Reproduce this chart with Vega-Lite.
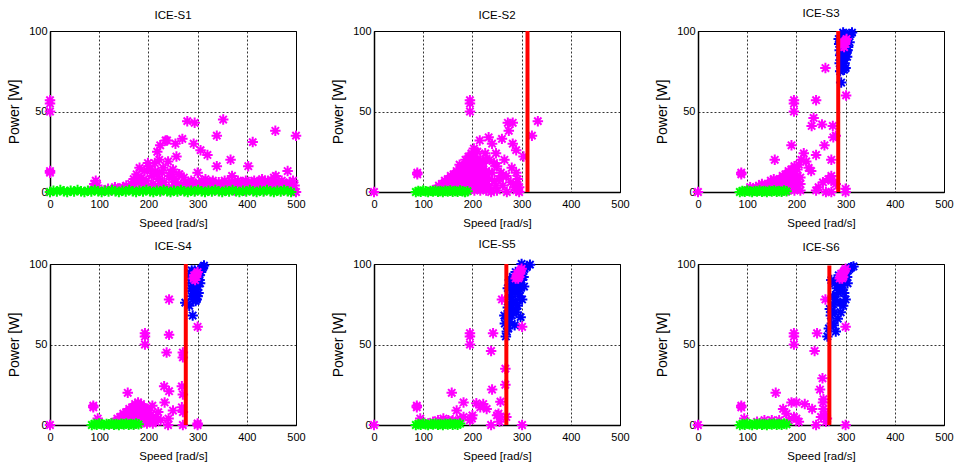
{
"$schema":"https://vega.github.io/schema/vega-lite/v6.json",
"background":"white",
"padding":{"left":7,"top":7,"right":5,"bottom":5},
"bounds":"flush",
"spacing":{"column":78,"row":72},
"columns":3,
"data":{"values":[
{"p":"ICE-S1","s":"m","x":0,"y":57},{"p":"ICE-S1","s":"m","x":0,"y":55},{"p":"ICE-S1","s":"m","x":0,"y":50},{"p":"ICE-S1","s":"m","x":0,"y":13},{"p":"ICE-S1","s":"m","x":0,"y":12},{"p":"ICE-S1","s":"m","x":0,"y":0},
{"p":"ICE-S1","s":"m","x":88,"y":3},{"p":"ICE-S1","s":"m","x":90,"y":5},{"p":"ICE-S1","s":"m","x":93,"y":7},{"p":"ICE-S1","s":"m","x":96,"y":4},
{"p":"ICE-S1","s":"m","x":110,"y":1},{"p":"ICE-S1","s":"m","x":118,"y":2},{"p":"ICE-S1","s":"m","x":125,"y":1},{"p":"ICE-S1","s":"m","x":132,"y":3},{"p":"ICE-S1","s":"m","x":140,"y":2},{"p":"ICE-S1","s":"m","x":148,"y":3},{"p":"ICE-S1","s":"m","x":155,"y":4},{"p":"ICE-S1","s":"m","x":160,"y":2},{"p":"ICE-S1","s":"m","x":165,"y":5},{"p":"ICE-S1","s":"m","x":170,"y":8},{"p":"ICE-S1","s":"m","x":172,"y":3},{"p":"ICE-S1","s":"m","x":176,"y":11},{"p":"ICE-S1","s":"m","x":180,"y":6},{"p":"ICE-S1","s":"m","x":182,"y":15},{"p":"ICE-S1","s":"m","x":186,"y":9},{"p":"ICE-S1","s":"m","x":190,"y":4},{"p":"ICE-S1","s":"m","x":192,"y":13},{"p":"ICE-S1","s":"m","x":196,"y":7},{"p":"ICE-S1","s":"m","x":199,"y":18},{"p":"ICE-S1","s":"m","x":200,"y":16},{"p":"ICE-S1","s":"m","x":204,"y":14},{"p":"ICE-S1","s":"m","x":207,"y":10},{"p":"ICE-S1","s":"m","x":210,"y":5},{"p":"ICE-S1","s":"m","x":213,"y":18},{"p":"ICE-S1","s":"m","x":214,"y":13},{"p":"ICE-S1","s":"m","x":218,"y":25},{"p":"ICE-S1","s":"m","x":220,"y":8},{"p":"ICE-S1","s":"m","x":222,"y":20},{"p":"ICE-S1","s":"m","x":224,"y":29},{"p":"ICE-S1","s":"m","x":226,"y":4},{"p":"ICE-S1","s":"m","x":228,"y":12},{"p":"ICE-S1","s":"m","x":232,"y":6},{"p":"ICE-S1","s":"m","x":235,"y":32},{"p":"ICE-S1","s":"m","x":238,"y":32},{"p":"ICE-S1","s":"m","x":240,"y":19},{"p":"ICE-S1","s":"m","x":242,"y":10},{"p":"ICE-S1","s":"m","x":245,"y":12},{"p":"ICE-S1","s":"m","x":248,"y":3},{"p":"ICE-S1","s":"m","x":250,"y":8},{"p":"ICE-S1","s":"m","x":253,"y":8},{"p":"ICE-S1","s":"m","x":255,"y":30},{"p":"ICE-S1","s":"m","x":257,"y":22},{"p":"ICE-S1","s":"m","x":260,"y":5},{"p":"ICE-S1","s":"m","x":263,"y":11},{"p":"ICE-S1","s":"m","x":266,"y":3},{"p":"ICE-S1","s":"m","x":269,"y":33},{"p":"ICE-S1","s":"m","x":272,"y":9},{"p":"ICE-S1","s":"m","x":275,"y":6},{"p":"ICE-S1","s":"m","x":279,"y":44},{"p":"ICE-S1","s":"m","x":283,"y":4},{"p":"ICE-S1","s":"m","x":287,"y":7},{"p":"ICE-S1","s":"m","x":292,"y":30},{"p":"ICE-S1","s":"m","x":294,"y":43},{"p":"ICE-S1","s":"m","x":297,"y":5},{"p":"ICE-S1","s":"m","x":300,"y":12},{"p":"ICE-S1","s":"m","x":303,"y":3},{"p":"ICE-S1","s":"m","x":306,"y":26},{"p":"ICE-S1","s":"m","x":308,"y":7},{"p":"ICE-S1","s":"m","x":312,"y":4},{"p":"ICE-S1","s":"m","x":316,"y":8},{"p":"ICE-S1","s":"m","x":320,"y":23},{"p":"ICE-S1","s":"m","x":323,"y":5},{"p":"ICE-S1","s":"m","x":327,"y":3},{"p":"ICE-S1","s":"m","x":331,"y":7},{"p":"ICE-S1","s":"m","x":335,"y":4},{"p":"ICE-S1","s":"m","x":339,"y":35},{"p":"ICE-S1","s":"m","x":339,"y":16},{"p":"ICE-S1","s":"m","x":343,"y":6},{"p":"ICE-S1","s":"m","x":347,"y":3},{"p":"ICE-S1","s":"m","x":352,"y":45},{"p":"ICE-S1","s":"m","x":355,"y":7},{"p":"ICE-S1","s":"m","x":359,"y":4},{"p":"ICE-S1","s":"m","x":363,"y":6},{"p":"ICE-S1","s":"m","x":367,"y":20},{"p":"ICE-S1","s":"m","x":370,"y":10},{"p":"ICE-S1","s":"m","x":374,"y":5},{"p":"ICE-S1","s":"m","x":378,"y":3},{"p":"ICE-S1","s":"m","x":382,"y":7},{"p":"ICE-S1","s":"m","x":386,"y":4},{"p":"ICE-S1","s":"m","x":390,"y":6},{"p":"ICE-S1","s":"m","x":394,"y":3},{"p":"ICE-S1","s":"m","x":398,"y":7},{"p":"ICE-S1","s":"m","x":403,"y":16},{"p":"ICE-S1","s":"m","x":406,"y":5},{"p":"ICE-S1","s":"m","x":410,"y":4},{"p":"ICE-S1","s":"m","x":412,"y":31},{"p":"ICE-S1","s":"m","x":415,"y":7},{"p":"ICE-S1","s":"m","x":419,"y":3},{"p":"ICE-S1","s":"m","x":423,"y":6},{"p":"ICE-S1","s":"m","x":427,"y":4},{"p":"ICE-S1","s":"m","x":431,"y":8},{"p":"ICE-S1","s":"m","x":435,"y":5},{"p":"ICE-S1","s":"m","x":439,"y":3},{"p":"ICE-S1","s":"m","x":443,"y":7},{"p":"ICE-S1","s":"m","x":447,"y":4},{"p":"ICE-S1","s":"m","x":451,"y":6},{"p":"ICE-S1","s":"m","x":455,"y":9},{"p":"ICE-S1","s":"m","x":458,"y":38},{"p":"ICE-S1","s":"m","x":459,"y":10},{"p":"ICE-S1","s":"m","x":463,"y":5},{"p":"ICE-S1","s":"m","x":467,"y":3},{"p":"ICE-S1","s":"m","x":471,"y":7},{"p":"ICE-S1","s":"m","x":475,"y":2},{"p":"ICE-S1","s":"m","x":479,"y":5},{"p":"ICE-S1","s":"m","x":483,"y":13},{"p":"ICE-S1","s":"m","x":487,"y":6},{"p":"ICE-S1","s":"m","x":490,"y":3},{"p":"ICE-S1","s":"m","x":494,"y":7},{"p":"ICE-S1","s":"m","x":497,"y":4},{"p":"ICE-S1","s":"m","x":500,"y":35},{"p":"ICE-S1","s":"m","x":500,"y":0},
{"p":"ICE-S1","s":"m","x":205,"y":3},{"p":"ICE-S1","s":"m","x":215,"y":2},{"p":"ICE-S1","s":"m","x":225,"y":1},{"p":"ICE-S1","s":"m","x":235,"y":3},{"p":"ICE-S1","s":"m","x":245,"y":1},{"p":"ICE-S1","s":"m","x":255,"y":2},{"p":"ICE-S1","s":"m","x":265,"y":1},{"p":"ICE-S1","s":"m","x":275,"y":2},{"p":"ICE-S1","s":"m","x":285,"y":3},{"p":"ICE-S1","s":"m","x":295,"y":1},{"p":"ICE-S1","s":"m","x":305,"y":2},{"p":"ICE-S1","s":"m","x":315,"y":1},{"p":"ICE-S1","s":"m","x":325,"y":2},{"p":"ICE-S1","s":"m","x":335,"y":1},{"p":"ICE-S1","s":"m","x":345,"y":2},{"p":"ICE-S1","s":"m","x":355,"y":1},{"p":"ICE-S1","s":"m","x":365,"y":2},{"p":"ICE-S1","s":"m","x":375,"y":1},{"p":"ICE-S1","s":"m","x":385,"y":2},{"p":"ICE-S1","s":"m","x":395,"y":1},{"p":"ICE-S1","s":"m","x":405,"y":2},{"p":"ICE-S1","s":"m","x":415,"y":1},{"p":"ICE-S1","s":"m","x":425,"y":2},{"p":"ICE-S1","s":"m","x":435,"y":1},{"p":"ICE-S1","s":"m","x":445,"y":2},{"p":"ICE-S1","s":"m","x":455,"y":1},{"p":"ICE-S1","s":"m","x":465,"y":2},{"p":"ICE-S1","s":"m","x":475,"y":1},{"p":"ICE-S1","s":"m","x":485,"y":2},{"p":"ICE-S1","s":"m","x":495,"y":1},{"p":"ICE-S1","s":"m","x":280,"y":5},{"p":"ICE-S1","s":"m","x":290,"y":6},{"p":"ICE-S1","s":"m","x":310,"y":5},{"p":"ICE-S1","s":"m","x":330,"y":6},{"p":"ICE-S1","s":"m","x":350,"y":5},{"p":"ICE-S1","s":"m","x":370,"y":6},{"p":"ICE-S1","s":"m","x":390,"y":5},{"p":"ICE-S1","s":"m","x":410,"y":6},{"p":"ICE-S1","s":"m","x":430,"y":5},{"p":"ICE-S1","s":"m","x":450,"y":6},{"p":"ICE-S1","s":"m","x":470,"y":5},{"p":"ICE-S1","s":"m","x":218,"y":11},{"p":"ICE-S1","s":"m","x":230,"y":15},{"p":"ICE-S1","s":"m","x":250,"y":14},{"p":"ICE-S1","s":"m","x":262,"y":11},
{"p":"ICE-S1","s":"g","x":0,"y":0},{"p":"ICE-S1","s":"g","x":7,"y":0.8},{"p":"ICE-S1","s":"g","x":14,"y":0.3},{"p":"ICE-S1","s":"g","x":21,"y":1.2},{"p":"ICE-S1","s":"g","x":28,"y":0.5},{"p":"ICE-S1","s":"g","x":35,"y":0},{"p":"ICE-S1","s":"g","x":42,"y":0.8},{"p":"ICE-S1","s":"g","x":49,"y":0.3},{"p":"ICE-S1","s":"g","x":56,"y":1.2},{"p":"ICE-S1","s":"g","x":63,"y":0.5},{"p":"ICE-S1","s":"g","x":70,"y":0},{"p":"ICE-S1","s":"g","x":77,"y":0.8},{"p":"ICE-S1","s":"g","x":84,"y":0.3},{"p":"ICE-S1","s":"g","x":91,"y":1.2},{"p":"ICE-S1","s":"g","x":98,"y":0.5},{"p":"ICE-S1","s":"g","x":105,"y":0},{"p":"ICE-S1","s":"g","x":112,"y":0.8},{"p":"ICE-S1","s":"g","x":119,"y":0.3},{"p":"ICE-S1","s":"g","x":126,"y":1.2},{"p":"ICE-S1","s":"g","x":133,"y":0.5},{"p":"ICE-S1","s":"g","x":140,"y":0},{"p":"ICE-S1","s":"g","x":147,"y":0.8},{"p":"ICE-S1","s":"g","x":154,"y":0.3},{"p":"ICE-S1","s":"g","x":161,"y":1.2},{"p":"ICE-S1","s":"g","x":168,"y":0.5},{"p":"ICE-S1","s":"g","x":175,"y":0},{"p":"ICE-S1","s":"g","x":182,"y":0.8},{"p":"ICE-S1","s":"g","x":189,"y":0.3},{"p":"ICE-S1","s":"g","x":196,"y":1.2},{"p":"ICE-S1","s":"g","x":203,"y":0.5},{"p":"ICE-S1","s":"g","x":210,"y":0},{"p":"ICE-S1","s":"g","x":217,"y":0.8},{"p":"ICE-S1","s":"g","x":224,"y":0.3},{"p":"ICE-S1","s":"g","x":231,"y":1.2},{"p":"ICE-S1","s":"g","x":238,"y":0.5},{"p":"ICE-S1","s":"g","x":245,"y":0},{"p":"ICE-S1","s":"g","x":252,"y":0.8},{"p":"ICE-S1","s":"g","x":259,"y":0.3},{"p":"ICE-S1","s":"g","x":266,"y":1.2},{"p":"ICE-S1","s":"g","x":273,"y":0.5},{"p":"ICE-S1","s":"g","x":280,"y":0},{"p":"ICE-S1","s":"g","x":287,"y":0.8},{"p":"ICE-S1","s":"g","x":294,"y":0.3},{"p":"ICE-S1","s":"g","x":301,"y":1.2},{"p":"ICE-S1","s":"g","x":308,"y":0.5},{"p":"ICE-S1","s":"g","x":315,"y":0},{"p":"ICE-S1","s":"g","x":322,"y":0.8},{"p":"ICE-S1","s":"g","x":329,"y":0.3},{"p":"ICE-S1","s":"g","x":336,"y":1.2},{"p":"ICE-S1","s":"g","x":343,"y":0.5},{"p":"ICE-S1","s":"g","x":350,"y":0},{"p":"ICE-S1","s":"g","x":357,"y":0.8},{"p":"ICE-S1","s":"g","x":364,"y":0.3},{"p":"ICE-S1","s":"g","x":371,"y":1.2},{"p":"ICE-S1","s":"g","x":378,"y":0.5},{"p":"ICE-S1","s":"g","x":385,"y":0},{"p":"ICE-S1","s":"g","x":392,"y":0.8},{"p":"ICE-S1","s":"g","x":399,"y":0.3},{"p":"ICE-S1","s":"g","x":406,"y":1.2},{"p":"ICE-S1","s":"g","x":413,"y":0.5},{"p":"ICE-S1","s":"g","x":420,"y":0},{"p":"ICE-S1","s":"g","x":427,"y":0.8},{"p":"ICE-S1","s":"g","x":434,"y":0.3},{"p":"ICE-S1","s":"g","x":441,"y":1.2},{"p":"ICE-S1","s":"g","x":448,"y":0.5},{"p":"ICE-S1","s":"g","x":455,"y":0},{"p":"ICE-S1","s":"g","x":462,"y":0.8},{"p":"ICE-S1","s":"g","x":469,"y":0.3},{"p":"ICE-S1","s":"g","x":476,"y":1.2},{"p":"ICE-S1","s":"g","x":483,"y":0.5},{"p":"ICE-S1","s":"g","x":490,"y":0},

{"p":"ICE-S2","s":"m","x":0,"y":0},{"p":"ICE-S2","s":"m","x":88,"y":12},{"p":"ICE-S2","s":"m","x":88,"y":11},{"p":"ICE-S2","s":"m","x":195,"y":57},{"p":"ICE-S2","s":"m","x":195,"y":55},{"p":"ICE-S2","s":"m","x":195,"y":50},
{"p":"ICE-S2","s":"m","x":120,"y":1},{"p":"ICE-S2","s":"m","x":126,"y":2},{"p":"ICE-S2","s":"m","x":132,"y":1},{"p":"ICE-S2","s":"m","x":132,"y":4},{"p":"ICE-S2","s":"m","x":138,"y":2},{"p":"ICE-S2","s":"m","x":138,"y":5},{"p":"ICE-S2","s":"m","x":144,"y":1},{"p":"ICE-S2","s":"m","x":144,"y":4},{"p":"ICE-S2","s":"m","x":144,"y":7},{"p":"ICE-S2","s":"m","x":150,"y":2},{"p":"ICE-S2","s":"m","x":150,"y":5},{"p":"ICE-S2","s":"m","x":150,"y":8},{"p":"ICE-S2","s":"m","x":156,"y":1},{"p":"ICE-S2","s":"m","x":156,"y":4},{"p":"ICE-S2","s":"m","x":156,"y":7},{"p":"ICE-S2","s":"m","x":156,"y":10},{"p":"ICE-S2","s":"m","x":162,"y":2},{"p":"ICE-S2","s":"m","x":162,"y":5},{"p":"ICE-S2","s":"m","x":162,"y":8},{"p":"ICE-S2","s":"m","x":162,"y":11},{"p":"ICE-S2","s":"m","x":168,"y":1},{"p":"ICE-S2","s":"m","x":168,"y":4},{"p":"ICE-S2","s":"m","x":168,"y":7},{"p":"ICE-S2","s":"m","x":168,"y":10},{"p":"ICE-S2","s":"m","x":168,"y":13},{"p":"ICE-S2","s":"m","x":174,"y":2},{"p":"ICE-S2","s":"m","x":174,"y":5},{"p":"ICE-S2","s":"m","x":174,"y":8},{"p":"ICE-S2","s":"m","x":174,"y":11},{"p":"ICE-S2","s":"m","x":174,"y":14},{"p":"ICE-S2","s":"m","x":174,"y":17},{"p":"ICE-S2","s":"m","x":180,"y":1},{"p":"ICE-S2","s":"m","x":180,"y":4},{"p":"ICE-S2","s":"m","x":180,"y":7},{"p":"ICE-S2","s":"m","x":180,"y":10},{"p":"ICE-S2","s":"m","x":180,"y":13},{"p":"ICE-S2","s":"m","x":180,"y":16},{"p":"ICE-S2","s":"m","x":186,"y":2},{"p":"ICE-S2","s":"m","x":186,"y":5},{"p":"ICE-S2","s":"m","x":186,"y":8},{"p":"ICE-S2","s":"m","x":186,"y":11},{"p":"ICE-S2","s":"m","x":186,"y":14},{"p":"ICE-S2","s":"m","x":186,"y":17},{"p":"ICE-S2","s":"m","x":186,"y":20},{"p":"ICE-S2","s":"m","x":192,"y":1},{"p":"ICE-S2","s":"m","x":192,"y":4},{"p":"ICE-S2","s":"m","x":192,"y":7},{"p":"ICE-S2","s":"m","x":192,"y":10},{"p":"ICE-S2","s":"m","x":192,"y":13},{"p":"ICE-S2","s":"m","x":192,"y":16},{"p":"ICE-S2","s":"m","x":192,"y":19},{"p":"ICE-S2","s":"m","x":192,"y":22},{"p":"ICE-S2","s":"m","x":198,"y":2},{"p":"ICE-S2","s":"m","x":198,"y":5},{"p":"ICE-S2","s":"m","x":198,"y":8},{"p":"ICE-S2","s":"m","x":198,"y":11},{"p":"ICE-S2","s":"m","x":198,"y":14},{"p":"ICE-S2","s":"m","x":198,"y":17},{"p":"ICE-S2","s":"m","x":198,"y":20},{"p":"ICE-S2","s":"m","x":198,"y":24},{"p":"ICE-S2","s":"m","x":204,"y":1},{"p":"ICE-S2","s":"m","x":204,"y":4},{"p":"ICE-S2","s":"m","x":204,"y":7},{"p":"ICE-S2","s":"m","x":204,"y":10},{"p":"ICE-S2","s":"m","x":204,"y":13},{"p":"ICE-S2","s":"m","x":204,"y":16},{"p":"ICE-S2","s":"m","x":204,"y":19},{"p":"ICE-S2","s":"m","x":204,"y":22},{"p":"ICE-S2","s":"m","x":210,"y":2},{"p":"ICE-S2","s":"m","x":210,"y":5},{"p":"ICE-S2","s":"m","x":210,"y":8},{"p":"ICE-S2","s":"m","x":210,"y":11},{"p":"ICE-S2","s":"m","x":210,"y":14},{"p":"ICE-S2","s":"m","x":210,"y":17},{"p":"ICE-S2","s":"m","x":210,"y":20},{"p":"ICE-S2","s":"m","x":216,"y":1},{"p":"ICE-S2","s":"m","x":216,"y":4},{"p":"ICE-S2","s":"m","x":216,"y":7},{"p":"ICE-S2","s":"m","x":216,"y":10},{"p":"ICE-S2","s":"m","x":216,"y":13},{"p":"ICE-S2","s":"m","x":216,"y":16},{"p":"ICE-S2","s":"m","x":216,"y":20},{"p":"ICE-S2","s":"m","x":222,"y":2},{"p":"ICE-S2","s":"m","x":222,"y":6},{"p":"ICE-S2","s":"m","x":222,"y":10},{"p":"ICE-S2","s":"m","x":222,"y":14},{"p":"ICE-S2","s":"m","x":222,"y":18},{"p":"ICE-S2","s":"m","x":228,"y":1},{"p":"ICE-S2","s":"m","x":228,"y":5},{"p":"ICE-S2","s":"m","x":228,"y":9},{"p":"ICE-S2","s":"m","x":228,"y":13},{"p":"ICE-S2","s":"m","x":234,"y":3},{"p":"ICE-S2","s":"m","x":234,"y":8},{"p":"ICE-S2","s":"m","x":234,"y":12},
{"p":"ICE-S2","s":"m","x":215,"y":32},{"p":"ICE-S2","s":"m","x":233,"y":34},{"p":"ICE-S2","s":"m","x":240,"y":30},{"p":"ICE-S2","s":"m","x":248,"y":24},{"p":"ICE-S2","s":"m","x":250,"y":16},{"p":"ICE-S2","s":"m","x":260,"y":33},{"p":"ICE-S2","s":"m","x":272,"y":43},{"p":"ICE-S2","s":"m","x":282,"y":43},{"p":"ICE-S2","s":"m","x":274,"y":38},{"p":"ICE-S2","s":"m","x":282,"y":30},{"p":"ICE-S2","s":"m","x":289,"y":26},{"p":"ICE-S2","s":"m","x":304,"y":22},{"p":"ICE-S2","s":"m","x":321,"y":35},{"p":"ICE-S2","s":"m","x":333,"y":44},{"p":"ICE-S2","s":"m","x":269,"y":10},{"p":"ICE-S2","s":"m","x":289,"y":12},{"p":"ICE-S2","s":"m","x":289,"y":5},{"p":"ICE-S2","s":"m","x":289,"y":1},{"p":"ICE-S2","s":"m","x":245,"y":7},{"p":"ICE-S2","s":"m","x":228,"y":20},{"p":"ICE-S2","s":"m","x":240,"y":12},{"p":"ICE-S2","s":"m","x":255,"y":8},{"p":"ICE-S2","s":"m","x":262,"y":4},{"p":"ICE-S2","s":"m","x":265,"y":20},{"p":"ICE-S2","s":"m","x":278,"y":6},{"p":"ICE-S2","s":"m","x":295,"y":3},{"p":"ICE-S2","s":"m","x":295,"y":0},{"p":"ICE-S2","s":"m","x":270,"y":0},{"p":"ICE-S2","s":"m","x":250,"y":1},{"p":"ICE-S2","s":"m","x":235,"y":20},{"p":"ICE-S2","s":"m","x":244,"y":18},{"p":"ICE-S2","s":"m","x":238,"y":0},{"p":"ICE-S2","s":"m","x":258,"y":12},{"p":"ICE-S2","s":"m","x":280,"y":15},{"p":"ICE-S2","s":"m","x":292,"y":8},{"p":"ICE-S2","s":"m","x":226,"y":24},{"p":"ICE-S2","s":"m","x":210,"y":25},{"p":"ICE-S2","s":"m","x":203,"y":27},{"p":"ICE-S2","s":"m","x":285,"y":3},{"p":"ICE-S2","s":"m","x":248,"y":4},{"p":"ICE-S2","s":"m","x":262,"y":10},
{"p":"ICE-S2","s":"g","x":85,"y":0},{"p":"ICE-S2","s":"g","x":90,"y":0.6},{"p":"ICE-S2","s":"g","x":95,"y":0.2},{"p":"ICE-S2","s":"g","x":100,"y":0.9},{"p":"ICE-S2","s":"g","x":105,"y":0.4},{"p":"ICE-S2","s":"g","x":110,"y":0},{"p":"ICE-S2","s":"g","x":115,"y":0.7},{"p":"ICE-S2","s":"g","x":120,"y":0.3},{"p":"ICE-S2","s":"g","x":125,"y":1},{"p":"ICE-S2","s":"g","x":130,"y":0.2},{"p":"ICE-S2","s":"g","x":135,"y":0.6},{"p":"ICE-S2","s":"g","x":140,"y":0},{"p":"ICE-S2","s":"g","x":145,"y":0.8},{"p":"ICE-S2","s":"g","x":150,"y":0.3},{"p":"ICE-S2","s":"g","x":155,"y":1},{"p":"ICE-S2","s":"g","x":160,"y":0.1},{"p":"ICE-S2","s":"g","x":165,"y":0.6},{"p":"ICE-S2","s":"g","x":170,"y":0.2},{"p":"ICE-S2","s":"g","x":175,"y":0.9},{"p":"ICE-S2","s":"g","x":180,"y":0.4},{"p":"ICE-S2","s":"g","x":185,"y":0},{"p":"ICE-S2","s":"g","x":190,"y":0.5},
{"p":"ICE-S2","s":"r","x":312,"y":0,"y2":100},

{"p":"ICE-S3","s":"b","x":287,"y":92},{"p":"ICE-S3","s":"b","x":288,"y":88},{"p":"ICE-S3","s":"b","x":289,"y":85},{"p":"ICE-S3","s":"b","x":290,"y":82},{"p":"ICE-S3","s":"b","x":291,"y":78},{"p":"ICE-S3","s":"b","x":292,"y":90},{"p":"ICE-S3","s":"b","x":293,"y":95},{"p":"ICE-S3","s":"b","x":294,"y":86},{"p":"ICE-S3","s":"b","x":295,"y":80},{"p":"ICE-S3","s":"b","x":296,"y":93},{"p":"ICE-S3","s":"b","x":297,"y":76},{"p":"ICE-S3","s":"b","x":298,"y":89},{"p":"ICE-S3","s":"b","x":299,"y":84},{"p":"ICE-S3","s":"b","x":300,"y":96},{"p":"ICE-S3","s":"b","x":301,"y":91},{"p":"ICE-S3","s":"b","x":302,"y":87},{"p":"ICE-S3","s":"b","x":303,"y":95},{"p":"ICE-S3","s":"b","x":305,"y":90},{"p":"ICE-S3","s":"b","x":306,"y":97},{"p":"ICE-S3","s":"b","x":308,"y":93},{"p":"ICE-S3","s":"b","x":310,"y":98},{"p":"ICE-S3","s":"b","x":313,"y":99},{"p":"ICE-S3","s":"b","x":291,"y":68},{"p":"ICE-S3","s":"b","x":289,"y":75},{"p":"ICE-S3","s":"b","x":292,"y":97},{"p":"ICE-S3","s":"b","x":295,"y":99},{"p":"ICE-S3","s":"b","x":300,"y":77},{"p":"ICE-S3","s":"b","x":303,"y":84},{"p":"ICE-S3","s":"b","x":286,"y":95},{"p":"ICE-S3","s":"b","x":288,"y":80},{"p":"ICE-S3","s":"b","x":298,"y":80},{"p":"ICE-S3","s":"b","x":304,"y":88},{"p":"ICE-S3","s":"b","x":297,"y":98},
{"p":"ICE-S3","s":"m","x":294,"y":91},{"p":"ICE-S3","s":"m","x":296,"y":92},{"p":"ICE-S3","s":"m","x":298,"y":93},{"p":"ICE-S3","s":"m","x":300,"y":94},{"p":"ICE-S3","s":"m","x":302,"y":95},{"p":"ICE-S3","s":"m","x":297,"y":90},{"p":"ICE-S3","s":"m","x":299,"y":92},{"p":"ICE-S3","s":"m","x":295,"y":93},
{"p":"ICE-S3","s":"m","x":0,"y":0},{"p":"ICE-S3","s":"m","x":88,"y":12},{"p":"ICE-S3","s":"m","x":88,"y":11},{"p":"ICE-S3","s":"m","x":195,"y":57},{"p":"ICE-S3","s":"m","x":195,"y":55},{"p":"ICE-S3","s":"m","x":195,"y":50},{"p":"ICE-S3","s":"m","x":259,"y":77},{"p":"ICE-S3","s":"m","x":240,"y":57},{"p":"ICE-S3","s":"m","x":301,"y":60},{"p":"ICE-S3","s":"m","x":235,"y":46},{"p":"ICE-S3","s":"m","x":231,"y":41},{"p":"ICE-S3","s":"m","x":252,"y":42},{"p":"ICE-S3","s":"m","x":274,"y":41},{"p":"ICE-S3","s":"m","x":275,"y":34},{"p":"ICE-S3","s":"m","x":280,"y":35},{"p":"ICE-S3","s":"m","x":257,"y":29},{"p":"ICE-S3","s":"m","x":190,"y":29},{"p":"ICE-S3","s":"m","x":240,"y":23},{"p":"ICE-S3","s":"m","x":271,"y":20},{"p":"ICE-S3","s":"m","x":156,"y":20},{"p":"ICE-S3","s":"m","x":205,"y":17},{"p":"ICE-S3","s":"m","x":210,"y":20},{"p":"ICE-S3","s":"m","x":215,"y":24},{"p":"ICE-S3","s":"m","x":220,"y":19},{"p":"ICE-S3","s":"m","x":225,"y":15},{"p":"ICE-S3","s":"m","x":230,"y":13},{"p":"ICE-S3","s":"m","x":271,"y":10},{"p":"ICE-S3","s":"m","x":271,"y":7},{"p":"ICE-S3","s":"m","x":254,"y":6},{"p":"ICE-S3","s":"m","x":240,"y":1},{"p":"ICE-S3","s":"m","x":271,"y":0},{"p":"ICE-S3","s":"m","x":300,"y":0},{"p":"ICE-S3","s":"m","x":300,"y":2},{"p":"ICE-S3","s":"m","x":245,"y":3},{"p":"ICE-S3","s":"m","x":260,"y":0},{"p":"ICE-S3","s":"m","x":265,"y":8},{"p":"ICE-S3","s":"m","x":280,"y":5},
{"p":"ICE-S3","s":"m","x":100,"y":1},{"p":"ICE-S3","s":"m","x":106,"y":3},{"p":"ICE-S3","s":"m","x":112,"y":1},{"p":"ICE-S3","s":"m","x":118,"y":3},{"p":"ICE-S3","s":"m","x":124,"y":1},{"p":"ICE-S3","s":"m","x":124,"y":4},{"p":"ICE-S3","s":"m","x":130,"y":2},{"p":"ICE-S3","s":"m","x":130,"y":5},{"p":"ICE-S3","s":"m","x":136,"y":1},{"p":"ICE-S3","s":"m","x":136,"y":4},{"p":"ICE-S3","s":"m","x":142,"y":2},{"p":"ICE-S3","s":"m","x":142,"y":5},{"p":"ICE-S3","s":"m","x":148,"y":1},{"p":"ICE-S3","s":"m","x":148,"y":4},{"p":"ICE-S3","s":"m","x":148,"y":7},{"p":"ICE-S3","s":"m","x":154,"y":2},{"p":"ICE-S3","s":"m","x":154,"y":5},{"p":"ICE-S3","s":"m","x":154,"y":8},{"p":"ICE-S3","s":"m","x":160,"y":1},{"p":"ICE-S3","s":"m","x":160,"y":4},{"p":"ICE-S3","s":"m","x":160,"y":7},{"p":"ICE-S3","s":"m","x":166,"y":2},{"p":"ICE-S3","s":"m","x":166,"y":5},{"p":"ICE-S3","s":"m","x":166,"y":8},{"p":"ICE-S3","s":"m","x":172,"y":1},{"p":"ICE-S3","s":"m","x":172,"y":4},{"p":"ICE-S3","s":"m","x":172,"y":7},{"p":"ICE-S3","s":"m","x":172,"y":10},{"p":"ICE-S3","s":"m","x":178,"y":2},{"p":"ICE-S3","s":"m","x":178,"y":5},{"p":"ICE-S3","s":"m","x":178,"y":8},{"p":"ICE-S3","s":"m","x":178,"y":11},{"p":"ICE-S3","s":"m","x":184,"y":1},{"p":"ICE-S3","s":"m","x":184,"y":4},{"p":"ICE-S3","s":"m","x":184,"y":7},{"p":"ICE-S3","s":"m","x":184,"y":10},{"p":"ICE-S3","s":"m","x":184,"y":13},{"p":"ICE-S3","s":"m","x":190,"y":2},{"p":"ICE-S3","s":"m","x":190,"y":5},{"p":"ICE-S3","s":"m","x":190,"y":8},{"p":"ICE-S3","s":"m","x":190,"y":11},{"p":"ICE-S3","s":"m","x":190,"y":14},{"p":"ICE-S3","s":"m","x":196,"y":1},{"p":"ICE-S3","s":"m","x":196,"y":4},{"p":"ICE-S3","s":"m","x":196,"y":7},{"p":"ICE-S3","s":"m","x":196,"y":10},{"p":"ICE-S3","s":"m","x":196,"y":13},{"p":"ICE-S3","s":"m","x":196,"y":16},{"p":"ICE-S3","s":"m","x":202,"y":2},{"p":"ICE-S3","s":"m","x":202,"y":6},{"p":"ICE-S3","s":"m","x":202,"y":10},{"p":"ICE-S3","s":"m","x":202,"y":14},{"p":"ICE-S3","s":"m","x":208,"y":1},{"p":"ICE-S3","s":"m","x":208,"y":5},{"p":"ICE-S3","s":"m","x":208,"y":9},
{"p":"ICE-S3","s":"g","x":85,"y":0},{"p":"ICE-S3","s":"g","x":90,"y":0.6},{"p":"ICE-S3","s":"g","x":95,"y":0.2},{"p":"ICE-S3","s":"g","x":100,"y":0.9},{"p":"ICE-S3","s":"g","x":105,"y":0.4},{"p":"ICE-S3","s":"g","x":110,"y":0},{"p":"ICE-S3","s":"g","x":115,"y":0.7},{"p":"ICE-S3","s":"g","x":120,"y":0.3},{"p":"ICE-S3","s":"g","x":125,"y":1},{"p":"ICE-S3","s":"g","x":130,"y":0.2},{"p":"ICE-S3","s":"g","x":135,"y":0.6},{"p":"ICE-S3","s":"g","x":140,"y":0},{"p":"ICE-S3","s":"g","x":145,"y":0.8},{"p":"ICE-S3","s":"g","x":150,"y":0.3},{"p":"ICE-S3","s":"g","x":155,"y":1},{"p":"ICE-S3","s":"g","x":160,"y":0.1},{"p":"ICE-S3","s":"g","x":165,"y":0.6},{"p":"ICE-S3","s":"g","x":170,"y":0.2},{"p":"ICE-S3","s":"g","x":175,"y":0.9},{"p":"ICE-S3","s":"g","x":180,"y":0.4},
{"p":"ICE-S3","s":"r","x":285,"y":0,"y2":100},

{"p":"ICE-S4","s":"b","x":275,"y":76},{"p":"ICE-S4","s":"b","x":283,"y":74},{"p":"ICE-S4","s":"b","x":290,"y":68},{"p":"ICE-S4","s":"b","x":313,"y":99},{"p":"ICE-S4","s":"b","x":286,"y":90},{"p":"ICE-S4","s":"b","x":287,"y":85},{"p":"ICE-S4","s":"b","x":288,"y":80},{"p":"ICE-S4","s":"b","x":289,"y":88},{"p":"ICE-S4","s":"b","x":290,"y":83},{"p":"ICE-S4","s":"b","x":291,"y":78},{"p":"ICE-S4","s":"b","x":292,"y":92},{"p":"ICE-S4","s":"b","x":293,"y":86},{"p":"ICE-S4","s":"b","x":294,"y":81},{"p":"ICE-S4","s":"b","x":295,"y":89},{"p":"ICE-S4","s":"b","x":296,"y":94},{"p":"ICE-S4","s":"b","x":297,"y":84},{"p":"ICE-S4","s":"b","x":298,"y":78},{"p":"ICE-S4","s":"b","x":299,"y":91},{"p":"ICE-S4","s":"b","x":300,"y":86},{"p":"ICE-S4","s":"b","x":301,"y":96},{"p":"ICE-S4","s":"b","x":302,"y":82},{"p":"ICE-S4","s":"b","x":303,"y":93},{"p":"ICE-S4","s":"b","x":305,"y":88},{"p":"ICE-S4","s":"b","x":307,"y":95},{"p":"ICE-S4","s":"b","x":309,"y":97},{"p":"ICE-S4","s":"b","x":311,"y":98},{"p":"ICE-S4","s":"b","x":285,"y":94},{"p":"ICE-S4","s":"b","x":288,"y":96},{"p":"ICE-S4","s":"b","x":294,"y":96},{"p":"ICE-S4","s":"b","x":300,"y":80},{"p":"ICE-S4","s":"b","x":296,"y":77},{"p":"ICE-S4","s":"b","x":304,"y":90},
{"p":"ICE-S4","s":"m","x":292,"y":91},{"p":"ICE-S4","s":"m","x":294,"y":92},{"p":"ICE-S4","s":"m","x":296,"y":93},{"p":"ICE-S4","s":"m","x":298,"y":94},{"p":"ICE-S4","s":"m","x":300,"y":95},{"p":"ICE-S4","s":"m","x":295,"y":90},{"p":"ICE-S4","s":"m","x":297,"y":92},{"p":"ICE-S4","s":"m","x":293,"y":93},
{"p":"ICE-S4","s":"m","x":0,"y":0},{"p":"ICE-S4","s":"m","x":88,"y":12},{"p":"ICE-S4","s":"m","x":88,"y":11},{"p":"ICE-S4","s":"m","x":193,"y":57},{"p":"ICE-S4","s":"m","x":193,"y":55},{"p":"ICE-S4","s":"m","x":193,"y":50},{"p":"ICE-S4","s":"m","x":242,"y":78},{"p":"ICE-S4","s":"m","x":242,"y":56},{"p":"ICE-S4","s":"m","x":237,"y":45},{"p":"ICE-S4","s":"m","x":300,"y":61},{"p":"ICE-S4","s":"m","x":270,"y":45},{"p":"ICE-S4","s":"m","x":270,"y":42},{"p":"ICE-S4","s":"m","x":232,"y":24},{"p":"ICE-S4","s":"m","x":242,"y":21},{"p":"ICE-S4","s":"m","x":268,"y":24},{"p":"ICE-S4","s":"m","x":270,"y":19},{"p":"ICE-S4","s":"m","x":158,"y":20},{"p":"ICE-S4","s":"m","x":233,"y":14},{"p":"ICE-S4","s":"m","x":250,"y":9},{"p":"ICE-S4","s":"m","x":268,"y":11},{"p":"ICE-S4","s":"m","x":241,"y":4},{"p":"ICE-S4","s":"m","x":240,"y":0},{"p":"ICE-S4","s":"m","x":270,"y":0},{"p":"ICE-S4","s":"m","x":300,"y":0},{"p":"ICE-S4","s":"m","x":300,"y":1},{"p":"ICE-S4","s":"m","x":208,"y":12},{"p":"ICE-S4","s":"m","x":97,"y":4},{"p":"ICE-S4","s":"m","x":220,"y":8},{"p":"ICE-S4","s":"m","x":215,"y":5},{"p":"ICE-S4","s":"m","x":225,"y":3},{"p":"ICE-S4","s":"m","x":270,"y":8},
{"p":"ICE-S4","s":"m","x":125,"y":1},{"p":"ICE-S4","s":"m","x":131,"y":2},{"p":"ICE-S4","s":"m","x":137,"y":1},{"p":"ICE-S4","s":"m","x":137,"y":4},{"p":"ICE-S4","s":"m","x":143,"y":2},{"p":"ICE-S4","s":"m","x":143,"y":5},{"p":"ICE-S4","s":"m","x":149,"y":1},{"p":"ICE-S4","s":"m","x":149,"y":4},{"p":"ICE-S4","s":"m","x":149,"y":7},{"p":"ICE-S4","s":"m","x":155,"y":2},{"p":"ICE-S4","s":"m","x":155,"y":5},{"p":"ICE-S4","s":"m","x":155,"y":8},{"p":"ICE-S4","s":"m","x":161,"y":1},{"p":"ICE-S4","s":"m","x":161,"y":4},{"p":"ICE-S4","s":"m","x":161,"y":7},{"p":"ICE-S4","s":"m","x":161,"y":10},{"p":"ICE-S4","s":"m","x":167,"y":2},{"p":"ICE-S4","s":"m","x":167,"y":5},{"p":"ICE-S4","s":"m","x":167,"y":8},{"p":"ICE-S4","s":"m","x":167,"y":11},{"p":"ICE-S4","s":"m","x":173,"y":1},{"p":"ICE-S4","s":"m","x":173,"y":4},{"p":"ICE-S4","s":"m","x":173,"y":7},{"p":"ICE-S4","s":"m","x":173,"y":10},{"p":"ICE-S4","s":"m","x":173,"y":13},{"p":"ICE-S4","s":"m","x":179,"y":2},{"p":"ICE-S4","s":"m","x":179,"y":5},{"p":"ICE-S4","s":"m","x":179,"y":8},{"p":"ICE-S4","s":"m","x":179,"y":11},{"p":"ICE-S4","s":"m","x":179,"y":14},{"p":"ICE-S4","s":"m","x":185,"y":1},{"p":"ICE-S4","s":"m","x":185,"y":4},{"p":"ICE-S4","s":"m","x":185,"y":7},{"p":"ICE-S4","s":"m","x":185,"y":10},{"p":"ICE-S4","s":"m","x":185,"y":13},{"p":"ICE-S4","s":"m","x":191,"y":2},{"p":"ICE-S4","s":"m","x":191,"y":5},{"p":"ICE-S4","s":"m","x":191,"y":8},{"p":"ICE-S4","s":"m","x":191,"y":11},{"p":"ICE-S4","s":"m","x":197,"y":1},{"p":"ICE-S4","s":"m","x":197,"y":4},{"p":"ICE-S4","s":"m","x":197,"y":7},{"p":"ICE-S4","s":"m","x":197,"y":10},{"p":"ICE-S4","s":"m","x":203,"y":2},{"p":"ICE-S4","s":"m","x":203,"y":5},{"p":"ICE-S4","s":"m","x":203,"y":9},{"p":"ICE-S4","s":"m","x":209,"y":1},{"p":"ICE-S4","s":"m","x":209,"y":5},{"p":"ICE-S4","s":"m","x":215,"y":2},
{"p":"ICE-S4","s":"g","x":85,"y":0},{"p":"ICE-S4","s":"g","x":90,"y":0.6},{"p":"ICE-S4","s":"g","x":95,"y":0.2},{"p":"ICE-S4","s":"g","x":100,"y":0.9},{"p":"ICE-S4","s":"g","x":105,"y":0.4},{"p":"ICE-S4","s":"g","x":110,"y":0},{"p":"ICE-S4","s":"g","x":115,"y":0.7},{"p":"ICE-S4","s":"g","x":120,"y":0.3},{"p":"ICE-S4","s":"g","x":125,"y":1},{"p":"ICE-S4","s":"g","x":130,"y":0.2},{"p":"ICE-S4","s":"g","x":135,"y":0.6},{"p":"ICE-S4","s":"g","x":140,"y":0},{"p":"ICE-S4","s":"g","x":145,"y":0.8},{"p":"ICE-S4","s":"g","x":150,"y":0.3},{"p":"ICE-S4","s":"g","x":155,"y":1},{"p":"ICE-S4","s":"g","x":160,"y":0.1},{"p":"ICE-S4","s":"g","x":165,"y":0.6},{"p":"ICE-S4","s":"g","x":170,"y":0.2},{"p":"ICE-S4","s":"g","x":175,"y":0.9},{"p":"ICE-S4","s":"g","x":180,"y":0.4},
{"p":"ICE-S4","s":"r","x":276,"y":0,"y2":100},

{"p":"ICE-S5","s":"b","x":268,"y":55},{"p":"ICE-S5","s":"b","x":273,"y":60},{"p":"ICE-S5","s":"b","x":266,"y":63},{"p":"ICE-S5","s":"b","x":270,"y":66},{"p":"ICE-S5","s":"b","x":275,"y":70},{"p":"ICE-S5","s":"b","x":272,"y":73},{"p":"ICE-S5","s":"b","x":278,"y":75},{"p":"ICE-S5","s":"b","x":276,"y":80},{"p":"ICE-S5","s":"b","x":281,"y":78},{"p":"ICE-S5","s":"b","x":283,"y":84},{"p":"ICE-S5","s":"b","x":279,"y":86},{"p":"ICE-S5","s":"b","x":285,"y":88},{"p":"ICE-S5","s":"b","x":287,"y":82},{"p":"ICE-S5","s":"b","x":290,"y":90},{"p":"ICE-S5","s":"b","x":288,"y":76},{"p":"ICE-S5","s":"b","x":292,"y":85},{"p":"ICE-S5","s":"b","x":294,"y":92},{"p":"ICE-S5","s":"b","x":296,"y":88},{"p":"ICE-S5","s":"b","x":298,"y":94},{"p":"ICE-S5","s":"b","x":300,"y":90},{"p":"ICE-S5","s":"b","x":302,"y":96},{"p":"ICE-S5","s":"b","x":304,"y":92},{"p":"ICE-S5","s":"b","x":306,"y":97},{"p":"ICE-S5","s":"b","x":310,"y":98},{"p":"ICE-S5","s":"b","x":317,"y":99.6},{"p":"ICE-S5","s":"b","x":301,"y":78},{"p":"ICE-S5","s":"b","x":298,"y":67},{"p":"ICE-S5","s":"b","x":284,"y":72},{"p":"ICE-S5","s":"b","x":280,"y":68},{"p":"ICE-S5","s":"b","x":290,"y":70},{"p":"ICE-S5","s":"b","x":295,"y":80},{"p":"ICE-S5","s":"b","x":270,"y":58},{"p":"ICE-S5","s":"b","x":276,"y":64},{"p":"ICE-S5","s":"b","x":286,"y":62},{"p":"ICE-S5","s":"b","x":292,"y":74},{"p":"ICE-S5","s":"b","x":297,"y":84},{"p":"ICE-S5","s":"b","x":305,"y":86},{"p":"ICE-S5","s":"b","x":272,"y":85},{"p":"ICE-S5","s":"b","x":282,"y":92},{"p":"ICE-S5","s":"b","x":288,"y":95},{"p":"ICE-S5","s":"b","x":265,"y":68},{"p":"ICE-S5","s":"b","x":276,"y":90},{"p":"ICE-S5","s":"b","x":300,"y":100},
{"p":"ICE-S5","s":"m","x":288,"y":91},{"p":"ICE-S5","s":"m","x":290,"y":92},{"p":"ICE-S5","s":"m","x":292,"y":93},{"p":"ICE-S5","s":"m","x":294,"y":94},{"p":"ICE-S5","s":"m","x":296,"y":95},{"p":"ICE-S5","s":"m","x":298,"y":96},{"p":"ICE-S5","s":"m","x":300,"y":97},{"p":"ICE-S5","s":"m","x":293,"y":91},{"p":"ICE-S5","s":"m","x":291,"y":94},{"p":"ICE-S5","s":"m","x":295,"y":92},{"p":"ICE-S5","s":"m","x":297,"y":94},
{"p":"ICE-S5","s":"m","x":0,"y":0},{"p":"ICE-S5","s":"m","x":87,"y":12},{"p":"ICE-S5","s":"m","x":87,"y":11},{"p":"ICE-S5","s":"m","x":195,"y":57},{"p":"ICE-S5","s":"m","x":195,"y":55},{"p":"ICE-S5","s":"m","x":195,"y":50},{"p":"ICE-S5","s":"m","x":260,"y":78},{"p":"ICE-S5","s":"m","x":242,"y":57},{"p":"ICE-S5","s":"m","x":238,"y":46},{"p":"ICE-S5","s":"m","x":301,"y":61},{"p":"ICE-S5","s":"m","x":267,"y":35},{"p":"ICE-S5","s":"m","x":267,"y":25},{"p":"ICE-S5","s":"m","x":240,"y":22},{"p":"ICE-S5","s":"m","x":257,"y":14.5},{"p":"ICE-S5","s":"m","x":158,"y":20},{"p":"ICE-S5","s":"m","x":182,"y":14},{"p":"ICE-S5","s":"m","x":216,"y":11},{"p":"ICE-S5","s":"m","x":208,"y":13.5},{"p":"ICE-S5","s":"m","x":229,"y":10},{"p":"ICE-S5","s":"m","x":168,"y":9},{"p":"ICE-S5","s":"m","x":182,"y":5},{"p":"ICE-S5","s":"m","x":199,"y":4},{"p":"ICE-S5","s":"m","x":253,"y":7},{"p":"ICE-S5","s":"m","x":257,"y":5},{"p":"ICE-S5","s":"m","x":269,"y":5},{"p":"ICE-S5","s":"m","x":238,"y":0},{"p":"ICE-S5","s":"m","x":301,"y":0},{"p":"ICE-S5","s":"m","x":94,"y":4},{"p":"ICE-S5","s":"m","x":141,"y":4},{"p":"ICE-S5","s":"m","x":151,"y":3},{"p":"ICE-S5","s":"m","x":200,"y":6},{"p":"ICE-S5","s":"m","x":195,"y":3},{"p":"ICE-S5","s":"m","x":255,"y":2},{"p":"ICE-S5","s":"m","x":250,"y":6},{"p":"ICE-S5","s":"m","x":222,"y":13},{"p":"ICE-S5","s":"m","x":110,"y":1},{"p":"ICE-S5","s":"m","x":120,"y":2},{"p":"ICE-S5","s":"m","x":130,"y":3},{"p":"ICE-S5","s":"m","x":140,"y":1},{"p":"ICE-S5","s":"m","x":150,"y":2},{"p":"ICE-S5","s":"m","x":160,"y":3},{"p":"ICE-S5","s":"m","x":170,"y":2},{"p":"ICE-S5","s":"m","x":175,"y":4},
{"p":"ICE-S5","s":"g","x":85,"y":0},{"p":"ICE-S5","s":"g","x":90,"y":0.6},{"p":"ICE-S5","s":"g","x":95,"y":0.2},{"p":"ICE-S5","s":"g","x":100,"y":0.9},{"p":"ICE-S5","s":"g","x":105,"y":0.4},{"p":"ICE-S5","s":"g","x":110,"y":0},{"p":"ICE-S5","s":"g","x":115,"y":0.7},{"p":"ICE-S5","s":"g","x":120,"y":0.3},{"p":"ICE-S5","s":"g","x":125,"y":1},{"p":"ICE-S5","s":"g","x":130,"y":0.2},{"p":"ICE-S5","s":"g","x":135,"y":0.6},{"p":"ICE-S5","s":"g","x":140,"y":0},{"p":"ICE-S5","s":"g","x":145,"y":0.8},{"p":"ICE-S5","s":"g","x":150,"y":0.3},{"p":"ICE-S5","s":"g","x":155,"y":1},{"p":"ICE-S5","s":"g","x":160,"y":0.1},{"p":"ICE-S5","s":"g","x":165,"y":0.6},{"p":"ICE-S5","s":"g","x":170,"y":0.2},{"p":"ICE-S5","s":"g","x":175,"y":0.9},
{"p":"ICE-S5","s":"r","x":269,"y":0,"y2":100},

{"p":"ICE-S6","s":"b","x":263,"y":55},{"p":"ICE-S6","s":"b","x":272,"y":63},{"p":"ICE-S6","s":"b","x":266,"y":60},{"p":"ICE-S6","s":"b","x":270,"y":68},{"p":"ICE-S6","s":"b","x":268,"y":72},{"p":"ICE-S6","s":"b","x":275,"y":75},{"p":"ICE-S6","s":"b","x":274,"y":80},{"p":"ICE-S6","s":"b","x":278,"y":70},{"p":"ICE-S6","s":"b","x":280,"y":78},{"p":"ICE-S6","s":"b","x":282,"y":85},{"p":"ICE-S6","s":"b","x":278,"y":88},{"p":"ICE-S6","s":"b","x":285,"y":82},{"p":"ICE-S6","s":"b","x":287,"y":89},{"p":"ICE-S6","s":"b","x":289,"y":76},{"p":"ICE-S6","s":"b","x":290,"y":84},{"p":"ICE-S6","s":"b","x":292,"y":90},{"p":"ICE-S6","s":"b","x":294,"y":87},{"p":"ICE-S6","s":"b","x":296,"y":93},{"p":"ICE-S6","s":"b","x":298,"y":90},{"p":"ICE-S6","s":"b","x":300,"y":78},{"p":"ICE-S6","s":"b","x":301,"y":95},{"p":"ICE-S6","s":"b","x":303,"y":92},{"p":"ICE-S6","s":"b","x":305,"y":96},{"p":"ICE-S6","s":"b","x":308,"y":97},{"p":"ICE-S6","s":"b","x":312,"y":98},{"p":"ICE-S6","s":"b","x":316,"y":98.5},{"p":"ICE-S6","s":"b","x":284,"y":66},{"p":"ICE-S6","s":"b","x":290,"y":70},{"p":"ICE-S6","s":"b","x":295,"y":74},{"p":"ICE-S6","s":"b","x":276,"y":62},{"p":"ICE-S6","s":"b","x":286,"y":93},{"p":"ICE-S6","s":"b","x":280,"y":58},{"p":"ICE-S6","s":"b","x":297,"y":82},{"p":"ICE-S6","s":"b","x":271,"y":90},{"p":"ICE-S6","s":"b","x":304,"y":88},
{"p":"ICE-S6","s":"m","x":288,"y":91},{"p":"ICE-S6","s":"m","x":290,"y":92},{"p":"ICE-S6","s":"m","x":292,"y":93},{"p":"ICE-S6","s":"m","x":294,"y":94},{"p":"ICE-S6","s":"m","x":296,"y":95},{"p":"ICE-S6","s":"m","x":298,"y":96},{"p":"ICE-S6","s":"m","x":300,"y":97},{"p":"ICE-S6","s":"m","x":293,"y":91},{"p":"ICE-S6","s":"m","x":291,"y":94},{"p":"ICE-S6","s":"m","x":295,"y":92},
{"p":"ICE-S6","s":"m","x":0,"y":0},{"p":"ICE-S6","s":"m","x":88,"y":12},{"p":"ICE-S6","s":"m","x":88,"y":11},{"p":"ICE-S6","s":"m","x":195,"y":57},{"p":"ICE-S6","s":"m","x":195,"y":55},{"p":"ICE-S6","s":"m","x":195,"y":50},{"p":"ICE-S6","s":"m","x":259,"y":78},{"p":"ICE-S6","s":"m","x":242,"y":57},{"p":"ICE-S6","s":"m","x":237,"y":46},{"p":"ICE-S6","s":"m","x":300,"y":61},{"p":"ICE-S6","s":"m","x":253,"y":29},{"p":"ICE-S6","s":"m","x":248,"y":22},{"p":"ICE-S6","s":"m","x":255,"y":16},{"p":"ICE-S6","s":"m","x":254,"y":14},{"p":"ICE-S6","s":"m","x":158,"y":20},{"p":"ICE-S6","s":"m","x":190,"y":14},{"p":"ICE-S6","s":"m","x":200,"y":14},{"p":"ICE-S6","s":"m","x":217,"y":13},{"p":"ICE-S6","s":"m","x":232,"y":10},{"p":"ICE-S6","s":"m","x":173,"y":10},{"p":"ICE-S6","s":"m","x":180,"y":7},{"p":"ICE-S6","s":"m","x":195,"y":5},{"p":"ICE-S6","s":"m","x":200,"y":4},{"p":"ICE-S6","s":"m","x":240,"y":0},{"p":"ICE-S6","s":"m","x":250,"y":5},{"p":"ICE-S6","s":"m","x":258,"y":7},{"p":"ICE-S6","s":"m","x":262,"y":4},{"p":"ICE-S6","s":"m","x":300,"y":0},{"p":"ICE-S6","s":"m","x":94,"y":4},{"p":"ICE-S6","s":"m","x":150,"y":3},{"p":"ICE-S6","s":"m","x":165,"y":3},{"p":"ICE-S6","s":"m","x":185,"y":3},{"p":"ICE-S6","s":"m","x":205,"y":2},{"p":"ICE-S6","s":"m","x":255,"y":10},{"p":"ICE-S6","s":"m","x":260,"y":2},{"p":"ICE-S6","s":"m","x":120,"y":2},{"p":"ICE-S6","s":"m","x":135,"y":3},
{"p":"ICE-S6","s":"g","x":85,"y":0},{"p":"ICE-S6","s":"g","x":90,"y":0.6},{"p":"ICE-S6","s":"g","x":95,"y":0.2},{"p":"ICE-S6","s":"g","x":100,"y":0.9},{"p":"ICE-S6","s":"g","x":105,"y":0.4},{"p":"ICE-S6","s":"g","x":110,"y":0},{"p":"ICE-S6","s":"g","x":115,"y":0.7},{"p":"ICE-S6","s":"g","x":120,"y":0.3},{"p":"ICE-S6","s":"g","x":125,"y":1},{"p":"ICE-S6","s":"g","x":130,"y":0.2},{"p":"ICE-S6","s":"g","x":135,"y":0.6},{"p":"ICE-S6","s":"g","x":140,"y":0},{"p":"ICE-S6","s":"g","x":145,"y":0.8},{"p":"ICE-S6","s":"g","x":150,"y":0.3},{"p":"ICE-S6","s":"g","x":155,"y":1},{"p":"ICE-S6","s":"g","x":160,"y":0.1},{"p":"ICE-S6","s":"g","x":165,"y":0.6},{"p":"ICE-S6","s":"g","x":170,"y":0.2},{"p":"ICE-S6","s":"g","x":175,"y":0.9},{"p":"ICE-S6","s":"g","x":180,"y":0.4},
{"p":"ICE-S6","s":"r","x":267,"y":0,"y2":99}
]},
"facet":{"field":"p","type":"nominal","header":{"title":null,"labelFont":"Liberation Sans, sans-serif","labelFontSize":11.5,"labelColor":"#000","labelPadding":4}},
"spec":{
"width":246,"height":161,
"encoding":{
"x":{"field":"x","type":"quantitative","scale":{"domain":[0,500],"nice":false,"zero":false},"axis":{"title":"Speed [rad/s]","values":[0,100,200,300,400,500]}},
"y":{"field":"y","type":"quantitative","scale":{"domain":[0,100],"nice":false,"zero":false},"axis":{"title":"Power [W]","values":[0,50,100]}}
},
"layer":[
{"transform":[{"filter":"datum.s==='b'"}],"mark":{"type":"point","shape":"M-1,0L1,0M0,-1L0,1M-0.7,-0.7L0.7,0.7M-0.7,0.7L0.7,-0.7","filled":false,"size":110,"strokeWidth":2,"opacity":1,"color":"#0000ff"}},
{"transform":[{"filter":"datum.s==='m'"}],"mark":{"type":"point","shape":"M-1,0L1,0M0,-1L0,1M-0.7,-0.7L0.7,0.7M-0.7,0.7L0.7,-0.7","filled":false,"size":110,"strokeWidth":2,"opacity":1,"color":"#ff00ff"}},
{"transform":[{"filter":"datum.s==='g'"}],"mark":{"type":"point","shape":"M-1,0L1,0M0,-1L0,1M-0.7,-0.7L0.7,0.7M-0.7,0.7L0.7,-0.7","filled":false,"size":110,"strokeWidth":2,"opacity":1,"color":"#00ff00"}},
{"transform":[{"filter":"datum.s==='r'"}],"mark":{"type":"rule","color":"#ff0000","strokeWidth":4},"encoding":{"y2":{"field":"y2"}}}
]
},
"resolve":{"axis":{"x":"independent","y":"independent"}},
"config":{
"view":{"stroke":"#000","strokeWidth":1},
"axis":{"grid":true,"gridColor":"#000","gridDash":[2,2],"gridWidth":0.8,"gridOpacity":1,"domainColor":"#000","domainWidth":1.5,"ticks":false,"labelFont":"Liberation Sans, sans-serif","labelFontSize":11,"labelColor":"#000","titleFont":"Liberation Sans, sans-serif","titleFontSize":11.5,"titleFontWeight":"normal","titleColor":"#000","labelFlush":false},
"axisX":{"labelPadding":6,"titlePadding":8},
"axisY":{"labelPadding":3,"titlePadding":7,"titleFontSize":14}
}
}
